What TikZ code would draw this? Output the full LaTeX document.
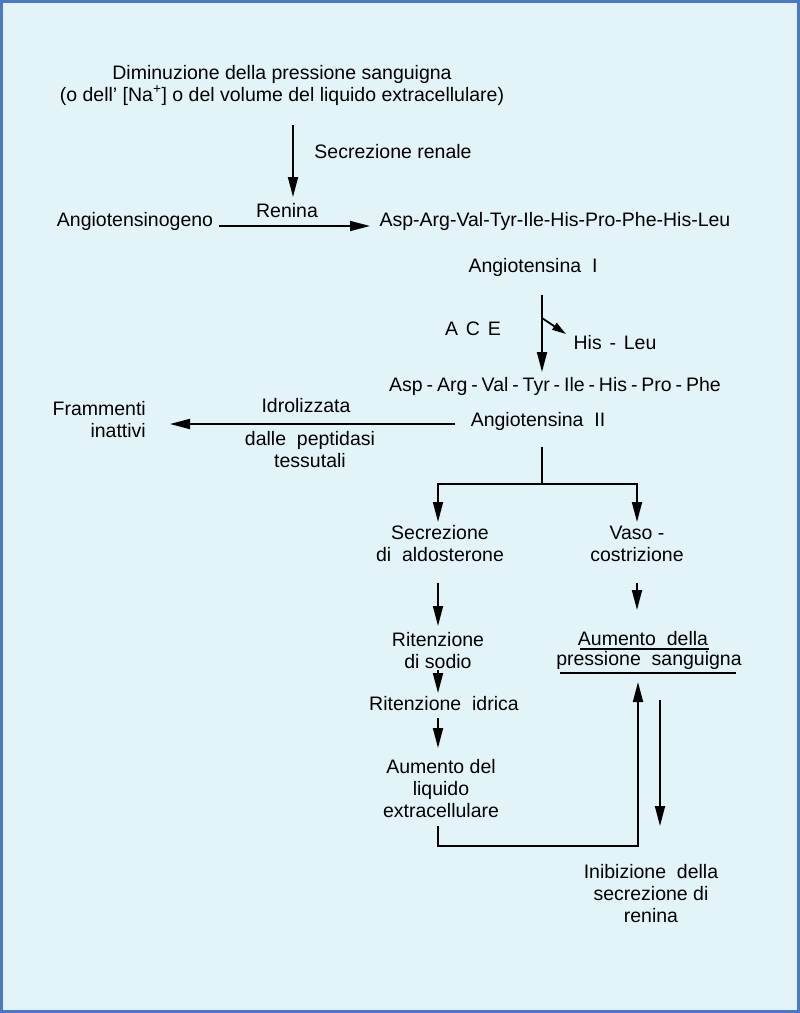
\documentclass[tikz,border=0pt]{standalone}
\usepackage{fontspec}
\setmainfont{Liberation Sans}
\usetikzlibrary{arrows.meta}
\definecolor{bgcyan}{HTML}{E3F4F9}
\definecolor{frameblue}{HTML}{4A78C4}
\newcommand{\pdash}{\hspace{0.2em}-\hspace{0.2em}}

\begin{document}
\begin{tikzpicture}
[x=1pt, y=-1pt,
every node/.style={
  font=\fontsize{19.5}{22}\selectfont, align=center, inner sep=1pt
},
flow/.style={
  -{Triangle[length=20pt,width=10pt]}, line width=1.8pt
},
smallflow/.style={
  -{Triangle[length=14pt,width=8pt]}, line width=1.8pt
},
link/.style={line width=1.8pt},
underline/.style={line width=1.3pt}
]
\useasboundingbox (0,0) rectangle (800,1013);
\fill[bgcyan] (0,0) rectangle (800,1013);
\draw[frameblue, line width=3pt] (1.5,1.5) rectangle (798.5,1011.5);

% Stimulus and renin
\node (stimulus) at (282,85) {Diminuzione della pressione sanguigna\\(o dell{\char39} [Na\textsuperscript{+}] o del volume del liquido extracellulare)};
\node (secretion) at (393,152) {Secrezione renale};
\node (renin) at (287,211) {Renina};
\node (angiotensinogen) at (135,221) {Angiotensinogeno};
\node (decapeptide) at (555,221) {Asp-Arg-Val-Tyr-Ile-His-Pro-Phe-His-Leu};
\node (ang1) at (533,267) {Angiotensina~~I};

% ACE
\node (ace) at (473,329) {A\hspace{0.4em}C\hspace{0.4em}E};
\node (hisleu) at (615,343) {His\hspace{0.4em}-\hspace{0.4em}Leu};
\node (octapeptide) at (555,386) {Asp\pdash Arg\pdash Val\pdash Tyr\pdash Ile\pdash His\pdash Pro\pdash Phe};
\node (ang2) at (538,421) {Angiotensina~~II};

% Degradation
\node[anchor=east, align=right] (fragments) at (147,420) {Frammenti\\inattivi};
\node (hydrolysis) at (306,406) {Idrolizzata};
\node (peptidases) at (310,450) {dalle~~peptidasi\\tessutali};

% Effects
\node (aldosterone) at (440,544) {Secrezione\\di~~aldosterone};
\node (vaso) at (637,544) {Vaso -\\costrizione};
\node (sodium) at (438,651) {Ritenzione\\di sodio};
\node (water) at (444,704) {Ritenzione~~idrica};
\node (ecf) at (441,789) {Aumento del\\liquido\\extracellulare};
\node (bp1) at (643,639) {Aumento~~della};
\node (bp2) at (649,660) {pressione~~sanguigna};
\node (inhibition) at (651,894) {Inibizione~~della\\secrezione di\\renina};

% connector ends
\coordinate (stim out) at (293,125);
\coordinate (renin in) at (293,197);
\coordinate (gen out) at (219,226);
\coordinate (deca in) at (370,226);
\coordinate (ang1 out) at (542,295);
\coordinate (octa in) at (542,372);
\coordinate (cut) at (542,318);
\coordinate (hisleu in) at (566,334);
\coordinate (ang2 out) at (455,424);
\coordinate (frag in) at (170,424);
\coordinate (split top) at (542,447);
\coordinate (split) at (542,484);
\coordinate (ald in) at (438,522);
\coordinate (vaso in) at (637,522);
\coordinate (ald out) at (438,583);
\coordinate (sodium in) at (438,626);
\coordinate (vaso out) at (637,583);
\coordinate (bp in) at (637,610);
\coordinate (sodium out) at (438,670);
\coordinate (water in) at (438,693);
\coordinate (water out) at (438,718);
\coordinate (ecf in) at (438,748);
\coordinate (ecf out) at (438,826);
\coordinate (loop) at (638,846);
\coordinate (bp back) at (638,682);
\coordinate (bp out) at (660,700);
\coordinate (inhib in) at (660,826);

\draw[flow] (stim out) -- (renin in);
\draw[flow] (gen out) -- (deca in);
\draw[flow] (ang1 out) -- (octa in);
\draw[smallflow] (cut) -- (hisleu in);
\draw[flow] (ang2 out) -- (frag in);
\draw[link] (split top) -- (split);
\draw[flow] (split) -| (ald in);
\draw[flow] (split) -| (vaso in);
\draw[flow] (ald out) -- (sodium in);
\draw[flow] (vaso out) -- (bp in);
\draw[flow] (sodium out) -- (water in);
\draw[flow] (water out) -- (ecf in);
\draw[flow] (ecf out) |- (loop) -- (bp back);
\draw[flow] (bp out) -- (inhib in);

% underlines
\draw[underline] (580,649) -- (709,649);
\draw[underline] (560,673) -- (736,673);

\end{tikzpicture}
\end{document}
